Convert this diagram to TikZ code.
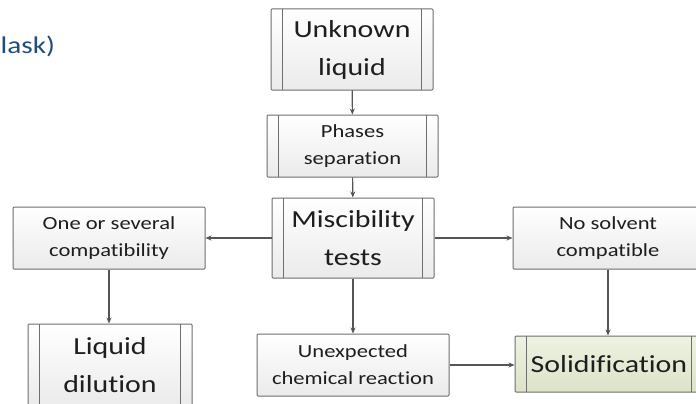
\documentclass[tikz,border=0pt]{standalone}
\usepackage{fontspec}
\setmainfont{Carlito}[FakeStretch=1.22, Ligatures=NoCommon]
\usetikzlibrary{arrows.meta}
\definecolor{edgegray}{HTML}{6E6E6E}
\definecolor{txtgray}{HTML}{1E1E1E}
\definecolor{arrgray}{HTML}{555555}
\definecolor{flaskblue}{HTML}{1F4E79}
\definecolor{greentop}{HTML}{EEF2E2}
\definecolor{greenbot}{HTML}{DCE3C8}
\tikzset{
  basebox/.style={draw=edgegray, line width=1pt, rounded corners=1pt, top color=white, bottom color=gray!16,
    text=txtgray, align=center, inner sep=0pt},
  bigtext/.style={font=\fontsize{24.5}{38}\selectfont},
  smalltext/.style={font=\fontsize{18.5}{27}\selectfont},
  procbox/.style={basebox, path picture={
      \draw[edgegray, line width=1pt] ([xshift=11.5pt]path picture bounding box.north west) -- ([xshift=11.5pt]path picture bounding box.south west);
      \draw[edgegray, line width=1pt] ([xshift=-11.5pt]path picture bounding box.north east) -- ([xshift=-11.5pt]path picture bounding box.south east);
  }},
  greenbox/.style={procbox, top color=greentop, bottom color=greenbot},
  arr/.style={draw=arrgray, line width=1.1pt, -{Stealth[length=6pt,width=5pt]}}
}
\begin{document}
\begin{tikzpicture}[x=1pt,y=-1pt]
\useasboundingbox (0,0) rectangle (696,404);
\clip (0,0) rectangle (696,404);
\fill[white] (0,0) rectangle (696,404);

\node[anchor=base west, text=flaskblue, font=\fontsize{24}{29}\selectfont, inner sep=0pt] (flask) at (0.5,53.5) {lask)};

\node[procbox, bigtext, minimum width=162pt, minimum height=81pt] (unk) at (352,49.5) {Unknown\\liquid};
\node[procbox, smalltext, minimum width=171pt, minimum height=62pt] (pha) at (352.5,146) {Phases\\separation};
\node[procbox, bigtext, minimum width=162pt, minimum height=80pt] (mis) at (353,238) {Miscibility\\tests};
\node[basebox, smalltext, minimum width=192pt, minimum height=62pt] (one) at (109,238) {One or several\\compatibility};
\node[basebox, smalltext, minimum width=190pt, minimum height=62pt] (nos) at (608,238) {No solvent\\compatible};
\node[basebox, smalltext, minimum width=192pt, minimum height=62pt] (une) at (353,365) {Unexpected\\chemical reaction};
\node[greenbox, bigtext, minimum width=188pt, minimum height=56pt] (sol) at (609,364) {Solidification};
\node[procbox, bigtext, minimum width=164pt, minimum height=82pt] (liq) at (110,365) {Liquid\\dilution};

\draw[arr] (unk) -- (pha);
\draw[arr] (pha) -- (mis);
\draw[arr] (mis) -- (one);
\draw[arr] (mis) -- (nos);
\draw[arr] (mis) -- (une);
\draw[arr] (one.south) -- (one.south |- liq.north);
\draw[arr] (nos.south) -- (nos.south |- sol.north);
\draw[arr] (une.east) -- (une.east -| sol.west);
\end{tikzpicture}
\end{document}
